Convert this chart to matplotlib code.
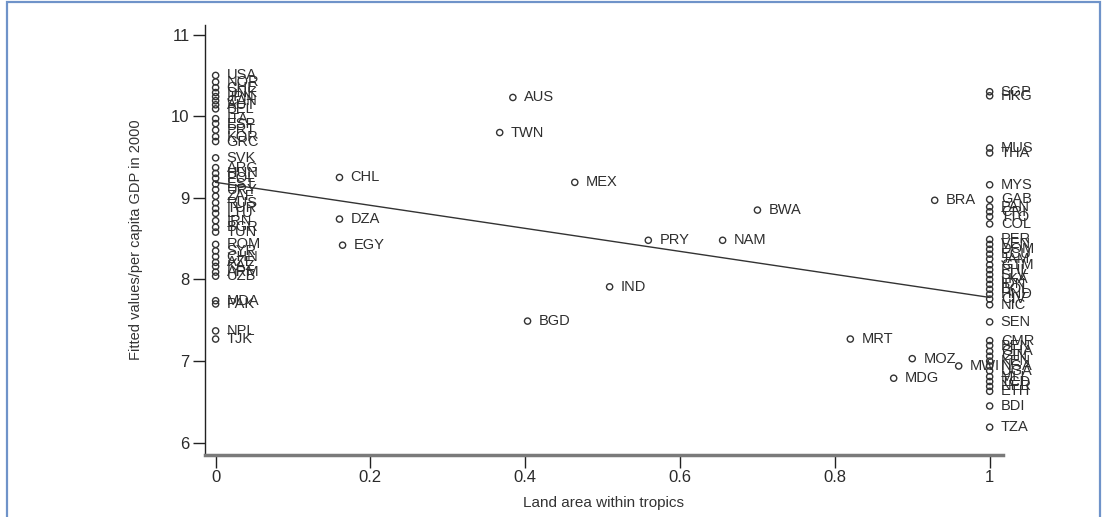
import matplotlib
matplotlib.use("Agg")
import matplotlib.pyplot as plt
from matplotlib.patches import Rectangle

plt.rcParams['font.family'] = ['Liberation Sans', 'DejaVu Sans']

# Countries with no land area in the tropics (x = 0)
left_codes = ["USA", "NOR", "CHE", "DNK", "JPN", "CAN", "AUT", "BEL", "ITA", "ESP",
              "PRT", "KOR", "GRC", "SVK", "ARG", "HUN", "POL", "EST", "URY", "ZAF",
              "RUS", "TUR", "LTU", "IRN", "BGR", "TUN", "ROM", "SYR", "CHN", "AZE",
              "KAZ", "ARM", "UZB", "MDA", "PAK", "NPL", "TJK"]
left_vals = [10.50, 10.42, 10.35, 10.29, 10.24, 10.19, 10.14, 10.09, 9.97, 9.91,
             9.83, 9.75, 9.69, 9.49, 9.37, 9.30, 9.24, 9.17, 9.10, 9.02,
             8.94, 8.87, 8.81, 8.72, 8.64, 8.58, 8.43, 8.35, 8.28, 8.21,
             8.16, 8.09, 8.04, 7.74, 7.70, 7.37, 7.27]

# Countries fully in the tropics (x = 1)
right_codes = ["SGP", "HKG", "MUS", "THA", "MYS", "GAB", "PAN", "CRI", "TTO", "COL",
               "PER", "VEN", "DOM", "ECU", "JAM", "GTM", "PHL", "SLV", "LKA", "IDN",
               "BOL", "HND", "CIV", "NIC", "SEN", "CMR", "BEN", "GHA", "GIN", "KEN",
               "NGA", "UGA", "MLI", "TCD", "NER", "ETH", "BDI", "TZA"]
right_vals = [10.30, 10.25, 9.61, 9.55, 9.16, 8.98, 8.89, 8.83, 8.77, 8.68,
              8.49, 8.43, 8.37, 8.31, 8.25, 8.18, 8.12, 8.06, 8.00, 7.94,
              7.88, 7.82, 7.76, 7.69, 7.48, 7.25, 7.19, 7.12, 7.06, 7.00,
              6.94, 6.88, 6.81, 6.75, 6.69, 6.63, 6.45, 6.19]

# Countries partly in the tropics
mid_codes = ["CHL", "DZA", "EGY", "AUS", "TWN", "MEX", "BGD", "IND", "PRY", "NAM",
             "BWA", "BRA", "MRT", "MOZ", "MDG", "MWI"]
mid_x = [0.16, 0.16, 0.164, 0.384, 0.367, 0.464, 0.403, 0.509, 0.559, 0.655,
         0.70, 0.929, 0.82, 0.90, 0.876, 0.96]
mid_vals = [9.25, 8.74, 8.42, 10.23, 9.80, 9.19, 7.49, 7.91, 8.48, 8.48,
            8.85, 8.97, 7.27, 7.03, 6.79, 6.94]

# Fitted regression line end points
fit_x = [0.0, 1.0]
fit_y = [9.19, 7.78]

x_ticks = [0, 0.2, 0.4, 0.6, 0.8, 1]
x_tick_labels = ["0", "0.2", "0.4", "0.6", "0.8", "1"]
y_ticks = [6, 7, 8, 9, 10, 11]

fig = plt.figure(figsize=(11.13, 5.17), dpi=100)
ax = fig.add_axes([0.184, 0.120, 0.717, 0.832])

all_x = [0.0] * len(left_vals) + [1.0] * len(right_vals) + mid_x
all_y = left_vals + right_vals + mid_vals
all_c = left_codes + right_codes + mid_codes

ax.scatter(all_x, all_y, s=20, facecolors='none', edgecolors='#333333',
           linewidths=1.0, zorder=3)
for x, y, c in zip(all_x, all_y, all_c):
    ax.annotate(c, (x, y), xytext=(8, 0), textcoords='offset points',
                va='center', ha='left', fontsize=10.5, color='#2e2e2e')

ax.plot(fit_x, fit_y, color='#333333', lw=1.0, zorder=2)

ax.set_xlim(-0.014, 1.017)
ax.set_ylim(5.85, 11.12)
ax.set_xticks(x_ticks)
ax.set_xticklabels(x_tick_labels)
ax.set_yticks(y_ticks)

for s in ['top', 'right']:
    ax.spines[s].set_visible(False)
ax.spines['left'].set_color('#222222')
ax.spines['left'].set_linewidth(1.0)
ax.spines['bottom'].set_color('#7a7a7a')
ax.spines['bottom'].set_linewidth(2.5)

ax.tick_params(axis='both', direction='out', length=9, width=1.0,
               colors='#222222', labelsize=12, labelcolor='#2a2a2a', pad=2)

ax.set_xlabel("Land area within tropics", fontsize=11, color='#333333', labelpad=8)
ax.set_ylabel("Fitted values/per capita GDP in 2000", fontsize=10.5,
              color='#333333', labelpad=20)

fig.patches.append(Rectangle((7 / 1113, -0.02), (1100 - 7) / 1113, 1.0 - 2 / 517 + 0.02,
                             transform=fig.transFigure, fill=False,
                             edgecolor='#6f93c9', linewidth=1.6, zorder=0))

fig.savefig("out.png", dpi=100)
